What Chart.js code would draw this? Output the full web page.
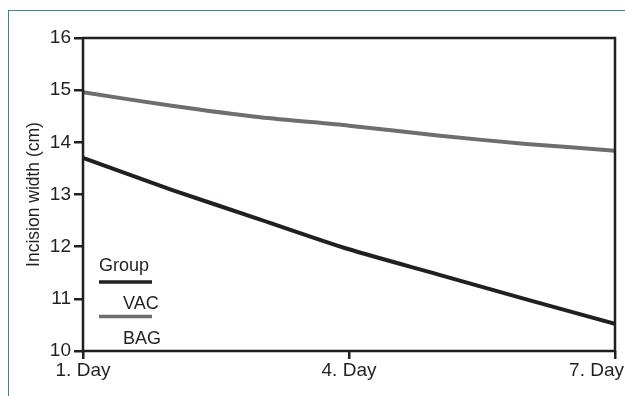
<!DOCTYPE html>
<html>
<head>
<meta charset="utf-8">
<script src="https://cdn.jsdelivr.net/npm/chart.js@4.4.1/dist/chart.umd.min.js"></script>
<style>
  html, body { margin: 0; padding: 0; background: #fff; }
  #wrap { position: relative; width: 625px; height: 396px; }
  #frame { position: absolute; left: 8px; top: 10px; right: 0; bottom: 0;
           border-top: 1px solid #3d8795; border-left: 1px solid #3d8795; }
  canvas { position: absolute; left: 0; top: 0; }
</style>
</head>
<body>
<div id="wrap">
  <div id="frame"></div>
  <canvas id="myChart" width="625" height="396"></canvas>
</div>
<script>
// values, one per day
const days = [1, 2, 3, 4, 5, 6, 7];
const vac = [13.70, 13.09, 12.52, 11.95, 11.47, 10.99, 10.52];
const bag = [14.96, 14.70, 14.48, 14.32, 14.13, 13.97, 13.84];
const tickDays = [1, 4, 7];
const tickLabels = ['1. Day', '4. Day', '7. Day'];

const FONT = '"Liberation Sans", Arial, sans-serif';
const TICK_SIZE = 19;
const TEXT_SIZE = 18;
const BLACK = '#231f20';
const GREY = '#6d6e71';

const toPoints = (vals) => vals.map((v, i) => ({ x: days[i], y: v }));

// box around plot, x labels and the little legend in the corner
const extras = {
    id: 'extras',
    afterDatasetsDraw(chart) {
        const ctx = chart.ctx;
        const a = chart.chartArea;
        ctx.save();
        ctx.strokeStyle = BLACK;
        ctx.lineWidth = 2.5;
        ctx.strokeRect(a.left, a.top, a.right - a.left, a.bottom - a.top);

        // x tick labels, kept inside the canvas
        const xs = chart.scales.x;
        ctx.font = TICK_SIZE + 'px ' + FONT;
        ctx.fillStyle = BLACK;
        ctx.textBaseline = 'alphabetic';
        ctx.textAlign = 'left';
        tickDays.forEach((d, i) => {
            const px = xs.getPixelForValue(d);
            const w = ctx.measureText(tickLabels[i]).width;
            let left = px - w / 2;
            if (left + w > 624) left = 624 - w;
            ctx.fillText(tickLabels[i], left, a.bottom + 25);
        });

        // legend
        ctx.font = TEXT_SIZE + 'px ' + FONT;
        const lx = a.left + 16;
        ctx.fillText('Group', lx, 271);
        chart.data.datasets.forEach((ds, i) => {
            const ly = 282 + i * 34.5;
            ctx.strokeStyle = ds.borderColor;
            ctx.lineWidth = 3.5;
            ctx.beginPath();
            ctx.moveTo(lx, ly);
            ctx.lineTo(lx + 53, ly);
            ctx.stroke();
            ctx.fillStyle = BLACK;
            ctx.fillText(ds.label, lx + 24, ly + 27);
        });
        ctx.restore();
    }
};

const chart = new Chart(document.getElementById('myChart'), {
    type: 'line',
    data: {
        datasets: [{
            label: 'VAC',
            data: toPoints(vac),
            borderColor: BLACK,
            borderWidth: 4,
            pointRadius: 0,
            tension: 0.25
        }, {
            label: 'BAG',
            data: toPoints(bag),
            borderColor: GREY,
            borderWidth: 4,
            pointRadius: 0,
            tension: 0.25
        }]
    },
    options: {
        responsive: false,
        animation: false,
        layout: { padding: { top: 38, right: 10, left: 0, bottom: 0 } },
        plugins: { legend: { display: false }, tooltip: { enabled: false } },
        scales: {
            x: {
                type: 'linear',
                min: 1,
                max: 7,
                afterBuildTicks: (scale) => {
                    scale.ticks = tickDays.map(v => ({ value: v }));
                },
                ticks: { display: false },
                border: { display: false },
                grid: {
                    drawOnChartArea: false,
                    drawTicks: true,
                    tickLength: 8,
                    color: BLACK,
                    lineWidth: 2.5
                },
                afterFit: (scale) => { scale.height = 45; }
            },
            y: {
                min: 10,
                max: 16,
                ticks: {
                    stepSize: 1,
                    color: BLACK,
                    padding: 3,
                    font: { family: FONT, size: TICK_SIZE }
                },
                border: { display: false },
                grid: {
                    drawOnChartArea: false,
                    drawTicks: true,
                    tickLength: 9,
                    color: BLACK,
                    lineWidth: 2.5
                },
                title: {
                    display: true,
                    text: 'Incision width (cm)',
                    color: BLACK,
                    font: { family: FONT, size: 17.5 },
                    padding: { top: 24, bottom: 0 }
                },
                afterFit: (scale) => { scale.width = 83; }
            }
        }
    },
    plugins: [extras]
});
</script>
</body>
</html>
